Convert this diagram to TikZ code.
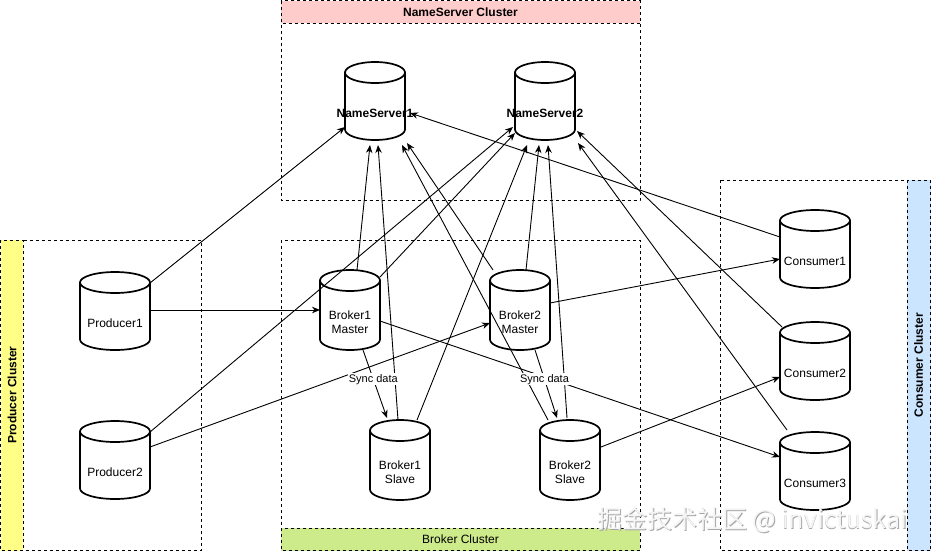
\documentclass[tikz,border=0pt]{standalone}
\usepackage{fontspec}
\setmainfont{Liberation Sans}
\newfontfamily\cjkfont{Noto Sans CJK SC}
\usetikzlibrary{arrows.meta,calc}
\definecolor{nsred}{HTML}{FFCCCC}
\definecolor{brgreen}{HTML}{CDEB8B}
\definecolor{pryellow}{HTML}{FFFF88}
\definecolor{cublue}{HTML}{CCE5FF}
\tikzset{
 cluster/.style={draw=black, dash pattern=on 3pt off 3pt, line width=0.8pt},
 cylline/.style={draw=black, line width=1.7pt, fill=white},
 conn/.style={draw=black, line width=0.9pt, -{Stealth[length=8pt,width=6.5pt,inset=2.5pt]}},
 cyltext/.style={font=\fontsize{12}{14}\selectfont, align=center, inner sep=0},
 nstext/.style={font=\bfseries\fontsize{12}{14}\selectfont, inner sep=0},
 synctext/.style={font=\fontsize{11}{13}\selectfont, fill=white, inner sep=1pt},
 titletext/.style={font=\bfseries\fontsize{12}{14}\selectfont, inner sep=0},
 plaintitle/.style={font=\fontsize{12}{14}\selectfont, inner sep=0},
 wmtext/.style={font=\cjkfont\fontsize{25}{28}\selectfont, anchor=west, inner sep=0},
}
\newcommand\mkcyl[7]{%
 \pgfmathsetmacro\cyL{#2-#4/2}%
 \pgfmathsetmacro\cyR{#2+#4/2}%
 \pgfmathsetmacro\cyRx{#4/2}%
 \pgfmathsetmacro\cyB{#3+#5}%
 \pgfmathsetmacro\cyT{#3+10.5}%
 \pgfmathsetmacro\cyBr{#3+#5-10.5}%
 \pgfmathsetmacro\cyK{\cyBr+0.5523*10.5}%
 \pgfmathsetmacro\cyKl{#2-0.5523*#4/2}%
 \pgfmathsetmacro\cyKr{#2+0.5523*#4/2}%
 \pgfmathsetmacro\cyM{#3+#5/2}%
 \pgfmathsetmacro\cyLab{(#3+21+#3+#5)/2+1.5}%
 \node[inner sep=0, minimum width=#4, minimum height=#5] (#1) at (#2,\cyM) {};
 \path[cylline] (\cyL,\cyT) -- (\cyL,\cyBr) .. controls (\cyL,\cyK) and (\cyKl,\cyB) .. (#2,\cyB) .. controls (\cyKr,\cyB) and (\cyR,\cyK) .. (\cyR,\cyBr) -- (\cyR,\cyT) -- cycle;
 \path[cylline] (#2,\cyT) ellipse [x radius=\cyRx pt, y radius=10.5pt];
 \node[#7] (#1-t) at (#2,\cyLab) {#6};
}
\begin{document}
\begin{tikzpicture}[x=1pt,y=-1pt]
\useasboundingbox (0,0) rectangle (931,552);
% clusters
\path[cluster] (281,0.5) rectangle (640,200);
\path[cluster, fill=nsred] (281,0.5) rectangle (640,23);
\node[titletext] (nstitle) at (460.5,12) {NameServer Cluster};
\path[cluster] (281,240) rectangle (640,550.5);
\path[cluster, fill=brgreen] (281,528) rectangle (640,550.5);
\node[plaintitle] (brtitle) at (460.5,539.5) {Broker Cluster};
\path[cluster] (0.5,240) rectangle (201,550.5);
\path[cluster, fill=pryellow] (0.5,240) rectangle (23,550.5);
\node[titletext, rotate=90] (prtitle) at (12,395) {Producer Cluster};
\path[cluster] (720,180) rectangle (930.5,550.5);
\path[cluster, fill=cublue] (907,180) rectangle (930.5,550.5);
\node[titletext, rotate=90] (cutitle) at (918.5,365) {Consumer Cluster};
% cylinders
\mkcyl{ns1}{375}{62}{60}{78}{NameServer1}{nstext}
\mkcyl{ns2}{545}{62}{60}{78}{NameServer2}{nstext}
\mkcyl{p1}{115}{272}{70}{78}{Producer1}{cyltext}
\mkcyl{p2}{115}{421}{70}{78}{Producer2}{cyltext}
\mkcyl{b1m}{350}{270}{60}{80}{Broker1\\Master}{cyltext}
\mkcyl{b2m}{520}{270}{60}{80}{Broker2\\Master}{cyltext}
\mkcyl{b1s}{400}{420}{60}{80}{Broker1\\Slave}{cyltext}
\mkcyl{b2s}{570}{420}{60}{80}{Broker2\\Slave}{cyltext}
\mkcyl{c1}{815}{210}{70}{78}{Consumer1}{cyltext}
\mkcyl{c2}{815}{322}{70}{78}{Consumer2}{cyltext}
\mkcyl{c3}{815}{432}{70}{78}{Consumer3}{cyltext}
% connectors
\draw[conn] ($(p1)+(35,-28)$) -- ($(ns1)+(-30,26)$);
\draw[conn] ($(p1)+(35,-1)$) -- ($(b1m)+(-30,0)$);
\draw[conn] ($(p2)+(35,-28)$) -- ($(ns2)+(-32,26)$);
\draw[conn] ($(p2)+(35,-13)$) -- ($(b2m)+(-30,13)$);
\draw[conn] ($(b1m)+(7,-40)$) -- ($(ns1)+(-5,44)$);
\draw[conn] ($(b1m)+(30,-33)$) -- ($(ns2)+(-30,32)$);
\draw[conn] ($(b1m)+(30,11)$) -- ($(c3)+(-35,-14)$);
\draw[conn] ($(b1s)+(-2,-40)$) -- ($(ns1)+(3,44)$);
\draw[conn] ($(b1s)+(17,-40)$) -- ($(ns2)+(-18,44)$);
\draw[conn] ($(b2m)+(-27,-40)$) -- ($(ns1)+(32,42)$);
\draw[conn] ($(b2m)+(6,-40)$) -- ($(ns2)+(-6,44)$);
\draw[conn] ($(b2m)+(30,-7)$) -- ($(c1)+(-35,10)$);
\draw[conn] ($(b2s)+(-22,-40)$) -- ($(ns1)+(27,44)$);
\draw[conn] ($(b2s)+(-3,-42)$) -- ($(ns2)+(3,44)$);
\draw[conn] ($(b2s)+(31,-13)$) -- ($(c2)+(-35,16)$);
\draw[conn] ($(c1)+(-35,-12)$) -- ($(ns1)+(35,12)$);
\draw[conn] ($(c2)+(-33,-34)$) -- ($(ns2)+(32,30)$);
\draw[conn] ($(c3)+(-28,-41)$) -- ($(ns2)+(33,42)$);
\draw[conn] ($(b1m)+(13,40)$) -- node[synctext, pos=0.43] (sync1) {Sync data} ($(b1s)+(-13,-42)$);
\draw[conn] ($(b2m)+(15,40)$) -- node[synctext, pos=0.43] (sync2) {Sync data} ($(b2s)+(-13,-42)$);
% watermark
\node[wmtext, text=gray!70] (wmshadow) at (597.8,520.8) {掘金技术社区 @ invictuskai};
\node[wmtext, text=white!92!gray] (wm) at (597,520) {掘金技术社区 @ invictuskai};
\end{tikzpicture}
\end{document}
